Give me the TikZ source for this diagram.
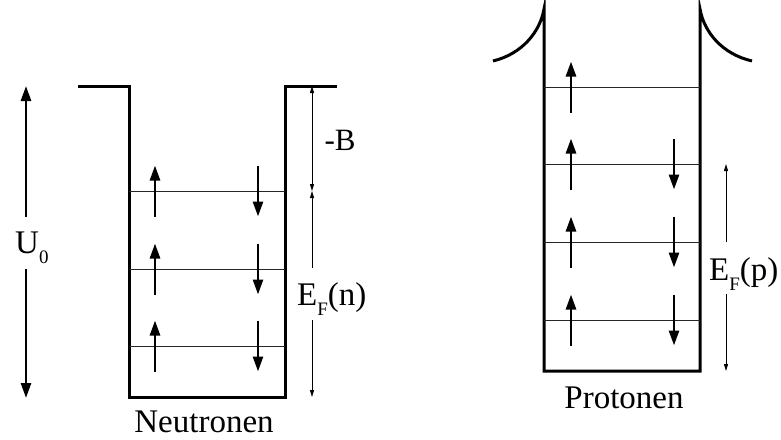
\documentclass[tikz,border=0pt]{standalone}
\usepackage{fontspec}
\setmainfont{Liberation Serif}
\usetikzlibrary{arrows.meta}
\newcommand{\lowsub}[1]{\raisebox{-10pt}{\fontsize{19}{19}\selectfont #1}}
\tikzset{
  wall/.style={line width=3pt, line join=miter},
  level/.style={line width=0.9pt, black!85},
  spin/.style={line width=2.7pt, -{Triangle[length=15pt,width=10pt]}},
  dimline/.style={line width=0.9pt, -{Triangle[length=7pt,width=4pt]}},
  lbl/.style={font=\fontsize{33}{38}\selectfont, inner sep=0pt}
}
\begin{document}
\begin{tikzpicture}[x=1pt,y=-1pt]
\useasboundingbox (0,0) rectangle (781,439);
% ---------- Neutron well ----------
\coordinate (nl0) at (78,86);
\coordinate (nl1) at (129,86);
\coordinate (nl2) at (129,397);
\coordinate (nr2) at (285,397);
\coordinate (nr1) at (285,86);
\coordinate (nr0) at (337,86);
\draw[wall] (nl0) -- (nl1) -- (nl2) -- (nr2) -- (nr1) -- (nr0);
\foreach \y/\n in {191/a,269/b,346/c}{
  \coordinate (nlev\n L) at (129,\y);
  \coordinate (nlev\n R) at (285,\y);
  \draw[level] (nlev\n L) -- (nlev\n R);
  \coordinate (nup\n s) at (155,\y+25.5);
  \coordinate (nup\n e) at (155,\y-25.5);
  \draw[spin] (nup\n s) -- (nup\n e);
  \coordinate (ndn\n s) at (258,\y-25.5);
  \coordinate (ndn\n e) at (258,\y+25.5);
  \draw[spin] (ndn\n s) -- (ndn\n e);
}
% U0 arrow
\node[lbl, anchor=base west] (U0) at (15,253) {U\lowsub{0}};
\coordinate (u0a) at (26,217);
\coordinate (u0top) at (26,86);
\coordinate (u0b) at (26,269);
\coordinate (u0bot) at (26,398);
\draw[spin] (u0a) -- (u0top);
\draw[spin] (u0b) -- (u0bot);
% -B and E_F(n)
\coordinate (dtop) at (312,86);
\coordinate (dmid) at (312,191);
\coordinate (dbot) at (312,397);
\coordinate (dga) at (312,268);
\coordinate (dgb) at (312,320);
\draw[dimline,{Triangle[length=7pt,width=4pt]}-{Triangle[length=7pt,width=4pt]}] (dtop) -- (dmid);
\draw[dimline] (dga) -- (dmid);
\draw[dimline] (dgb) -- (dbot);
\node[lbl, font=\fontsize{31}{36}\selectfont] (B) at (340,140) {-B};
\node[lbl, anchor=base west] (EFn) at (297,305) {E\lowsub{F}(n)};
\node[lbl] (neut) at (204,422) {Neutronen};
% ---------- Proton well ----------
\coordinate (pl0) at (493,61);
\coordinate (pl1) at (544,9);
\coordinate (pl2) at (544,371);
\coordinate (pr2) at (700,371);
\coordinate (pr1) at (700,9);
\coordinate (pr0) at (752,61);
\draw[wall] (pl0) .. controls (522,54) and (540,32) .. (pl1) -- (pl2) -- (pr2) -- (pr1) .. controls (704,32) and (722,54) .. (pr0);
\foreach \y/\n in {87/a,164/b,242/c,320/d}{
  \coordinate (plev\n L) at (544,\y);
  \coordinate (plev\n R) at (700,\y);
  \draw[level] (plev\n L) -- (plev\n R);
  \coordinate (pup\n s) at (571,\y+25.5);
  \coordinate (pup\n e) at (571,\y-25.5);
  \draw[spin] (pup\n s) -- (pup\n e);
}
\foreach \y/\n in {164/b,242/c,320/d}{
  \coordinate (pdn\n s) at (674,\y-25.5);
  \coordinate (pdn\n e) at (674,\y+25.5);
  \draw[spin] (pdn\n s) -- (pdn\n e);
}
\coordinate (ptop) at (726,164);
\coordinate (pga) at (726,242);
\coordinate (pgb) at (726,294);
\coordinate (pbot) at (726,371);
\draw[dimline] (pga) -- (ptop);
\draw[dimline] (pgb) -- (pbot);
\node[lbl, anchor=base west] (EFp) at (709,280) {E\lowsub{F}(p)};
\node[lbl] (prot) at (624,398) {Protonen};
\end{tikzpicture}
\end{document}
